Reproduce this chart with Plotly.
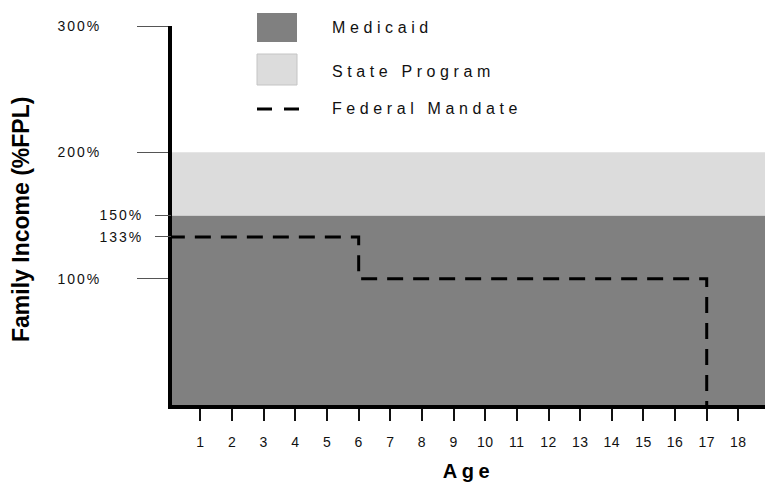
import plotly.graph_objects as go

# Data
ages_band = [0, 19]
medicaid_limit = [150, 150]
state_limit = [200, 200]
mandate_age = [0, 6, 6, 17, 17]
mandate_income = [133, 133, 100, 100, 0]
x_ticks = list(range(1, 19))
y_major = [100, 200, 300]
y_minor = [133, 150]

FONT = "Liberation Sans, Arial, sans-serif"

fig = go.Figure()
fig.add_trace(go.Scatter(x=ages_band, y=medicaid_limit, mode="lines", fill="tozeroy",
                         fillcolor="#808080", line=dict(width=0, color="#808080"),
                         name="Medicaid", hoverinfo="skip"))
fig.add_trace(go.Scatter(x=ages_band, y=state_limit, mode="lines", fill="tonexty",
                         fillcolor="#dcdcdc", line=dict(width=0, color="#dcdcdc"),
                         name="State Program", hoverinfo="skip"))
fig.add_trace(go.Scatter(x=mandate_age, y=mandate_income, mode="lines", yaxis="y2",
                         line=dict(color="black", width=3, dash="16px,10px"),
                         name="Federal Mandate", hoverinfo="skip"))

W, H = 765, 483
L, R, T, B = 172, 0, 26, 78
pw, ph = W - L - R, H - T - B

def px(x):
    return (x - L) / pw

def py(y):
    return (H - B - y) / ph

shapes = [
    dict(type="rect", xref="paper", yref="paper", x0=px(257), x1=px(297), y0=py(42), y1=py(13),
         fillcolor="#808080", line=dict(width=0)),
    dict(type="rect", xref="paper", yref="paper", x0=px(257), x1=px(297), y0=py(85), y1=py(54),
         fillcolor="#dcdcdc", line=dict(width=1, color="#c4c4c4")),
    dict(type="line", xref="paper", yref="paper", x0=px(257), x1=px(300), y0=py(109), y1=py(109),
         line=dict(width=3, color="black", dash="15px,12px")),
]
ann_style = dict(xref="paper", yref="paper", xanchor="left", yanchor="middle", align="left",
                 showarrow=False, font=dict(family=FONT, size=16, color="#111"))
annotations = [
    dict(text="Medicaid", x=px(330), y=py(28), **ann_style),
    dict(text="State Program", x=px(330), y=py(71), **ann_style),
    dict(text="Federal Mandate", x=px(330), y=py(108), **ann_style),
    dict(text="<b>Family Income (%FPL)</b>", xref="paper", yref="paper", x=px(21), y=py(220),
         xanchor="center", yanchor="middle", textangle=-90, showarrow=False,
         font=dict(family=FONT, size=23, color="black")),
]

fig.update_layout(
    width=W, height=H, margin=dict(l=L, r=R, t=T, b=B),
    plot_bgcolor="white", paper_bgcolor="white", showlegend=False,
    shapes=shapes, annotations=annotations,
    xaxis=dict(range=[0.1, 0.1 + pw / 31.64], showgrid=False, zeroline=False,
               showline=True, linewidth=4, linecolor="black",
               ticks="outside", tickvals=x_ticks, ticktext=[str(v) for v in x_ticks],
               ticklen=12, tickwidth=2, tickcolor="#111", ticklabelstandoff=9,
               tickfont=dict(family=FONT, size=14, color="#111"),
               title=dict(text="<b>Age</b>", font=dict(family=FONT, size=20, color="black"), standoff=16)),
    yaxis=dict(range=[0, 300], showgrid=False, zeroline=False,
               showline=True, linewidth=4, linecolor="black",
               ticks="outside", tickvals=y_major, ticktext=[f"{v}%" for v in y_major],
               ticklen=31, tickwidth=1, tickcolor="#555", ticklabelstandoff=33,
               tickfont=dict(family=FONT, size=14, color="#111")),
    yaxis2=dict(range=[0, 300], overlaying="y", side="left", anchor="x", showgrid=False, zeroline=False,
                showline=False, ticks="outside", tickvals=y_minor, ticktext=[f"{v}%" for v in y_minor],
                ticklen=16, tickwidth=1, tickcolor="#555", ticklabelstandoff=9,
                tickfont=dict(family=FONT, size=14, color="#111")),
)

css = """
var s=document.createElement('style');
s.textContent='html,body{margin:0;padding:0;overflow:hidden}.annotation-text{letter-spacing:4.6px}.annotation[data-index="3"] .annotation-text{letter-spacing:0px}.ytick text,.y2tick text{letter-spacing:2px}.xtick text{letter-spacing:0.5px}.xtitle{letter-spacing:4.5px}';
document.head.appendChild(s);
"""
fig.write_html("out.html", post_script=css, config={"displayModeBar": False, "staticPlot": True})
